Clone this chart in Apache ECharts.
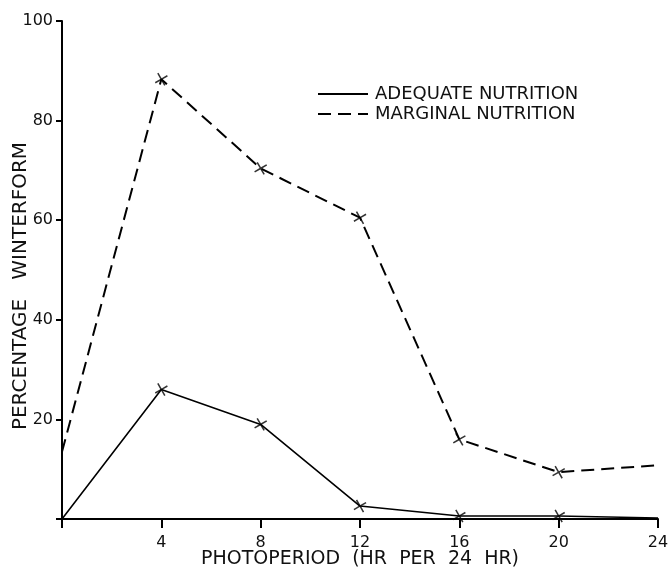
<!DOCTYPE html>
<html>
<head>
    <meta charset="utf-8">
    <title>Winterform</title>
    <script src="https://cdn.jsdelivr.net/npm/echarts@6/dist/echarts.min.js"></script>
    <style>
        html, body { margin: 0; padding: 0; background: #fff; }
        #chart { width: 669px; height: 568px; }
    </style>
</head>
<body>
<div id="chart"></div>
<script type="text/javascript">
    // photoperiod hours
    const hours = [0, 4, 8, 12, 16, 20, 24];
    const adequate = [0, 26, 19, 2.6, 0.6, 0.6, 0.2];
    const marginal = [13.5, 88.3, 70.4, 60.5, 16, 9.4, 10.8];
    const xTicks = [4, 8, 12, 16, 20, 24];
    const yTicks = [20, 40, 60, 80, 100];

    const font = 'DejaVu Sans';
    const cross = 'path://M0,1L1,0L5,4L9,0L10,1L6,5L10,9L9,10L5,6L1,10L0,9L4,5Z';

    const pairs = function (ys) {
        return hours.map(function (h, i) { return [h, ys[i]]; });
    };
    // markers are only at the measured points, not at 0 / 24
    const markPairs = function (ys) {
        return pairs(ys).filter(function (p) { return p[0] > 0 && p[0] < 24; });
    };

    const chart = echarts.init(document.getElementById('chart'));
    const option = {
        animation: false,
        grid: { left: 62, right: 11, top: 21, bottom: 49, outerBoundsMode: 'none' },
        legend: {
            orient: 'vertical',
            left: 312,
            top: 80,
            itemWidth: 50,
            itemHeight: 12,
            itemGap: 2,
            itemStyle: { opacity: 0 },
            data: ['ADEQUATE NUTRITION', 'MARGINAL NUTRITION'],
            textStyle: { fontFamily: font, fontSize: 18, color: '#111', padding: [0, 0, 0, 2] }
        },
        xAxis: {
            type: 'value',
            min: 0,
            max: 24,
            interval: 4,
            name: 'PHOTOPERIOD  (HR  PER  24  HR)',
            nameLocation: 'middle',
            nameMoveOverlap: false,
            nameGap: 31,
            nameTextStyle: { fontFamily: font, fontSize: 19, color: '#111' },
            axisLine: { lineStyle: { color: '#000', width: 2 } },
            axisTick: { show: true, length: 9, lineStyle: { color: '#000', width: 2 } },
            axisLabel: {
                fontFamily: font, fontSize: 16, color: '#111', margin: 16,
                formatter: function (v) { return xTicks.indexOf(v) >= 0 ? String(v) : ''; }
            },
            splitLine: { show: false }
        },
        yAxis: {
            type: 'value',
            min: 0,
            max: 100,
            interval: 20,
            name: 'PERCENTAGE   WINTERFORM',
            nameLocation: 'middle',
            nameMoveOverlap: false,
            nameGap: 31,
            nameTextStyle: { fontFamily: font, fontSize: 20, color: '#111', padding: [0, 32, 0, 0] },
            axisLine: { show: true, lineStyle: { color: '#000', width: 2 } },
            axisTick: { show: true, length: 6, lineStyle: { color: '#000', width: 2 } },
            axisLabel: {
                fontFamily: font, fontSize: 16, color: '#111', margin: 9,
                formatter: function (v) { return yTicks.indexOf(v) >= 0 ? String(v) : ''; }
            },
            splitLine: { show: false }
        },
        series: [
            {
                name: 'ADEQUATE NUTRITION',
                type: 'line',
                data: pairs(adequate),
                showSymbol: false,
                symbol: 'none',
                lineStyle: { color: '#000', width: 1.6, type: 'solid' },
                itemStyle: { color: '#000' }
            },
            {
                name: 'MARGINAL NUTRITION',
                type: 'line',
                data: pairs(marginal),
                showSymbol: false,
                symbol: 'none',
                lineStyle: { color: '#000', width: 2, type: [13, 7] },
                itemStyle: { color: '#000' }
            },
            {
                type: 'scatter',
                data: markPairs(adequate).concat(markPairs(marginal)),
                symbol: cross,
                symbolSize: 11,
                symbolRotate: -15,
                itemStyle: { color: '#000' },
                z: 5
            }
        ]
    };
    chart.setOption(option);
</script>
</body>
</html>
